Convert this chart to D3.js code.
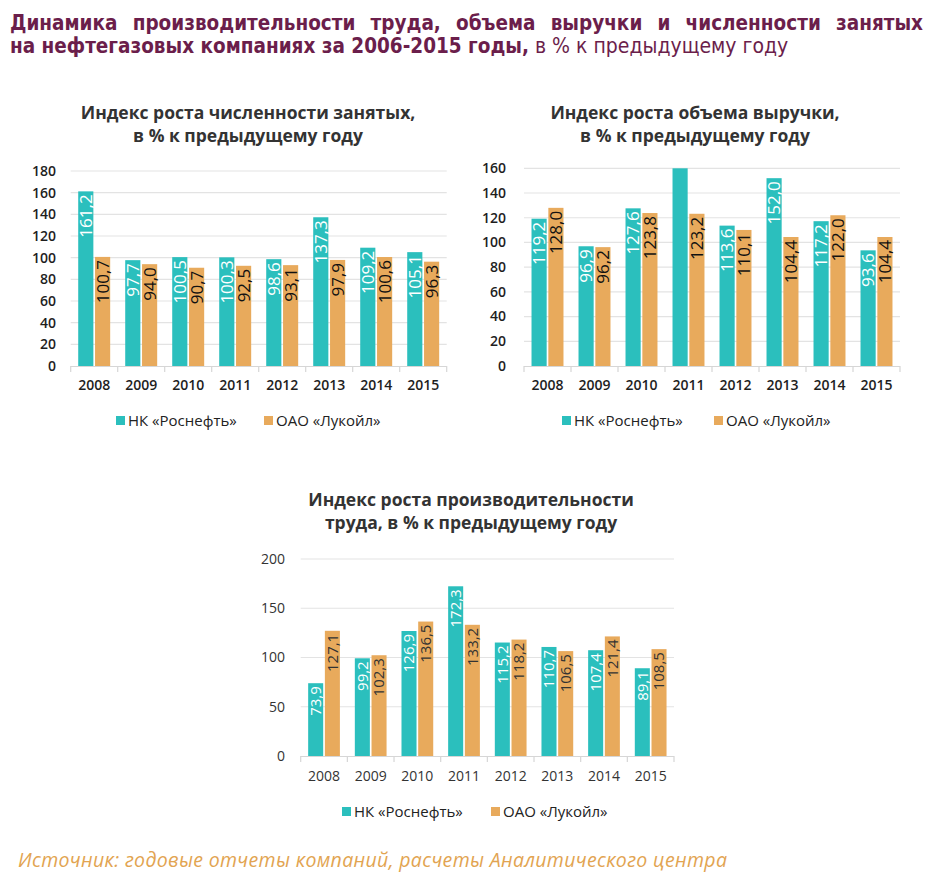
<!DOCTYPE html>
<html><head><meta charset="utf-8">
<script src="https://cdn.jsdelivr.net/npm/d3@7"></script>
<style>body{margin:0;background:#fff}svg{display:block}</style>
</head><body>
<svg id="c" width="942" height="878"></svg>
<script>
const years = ["2008","2009","2010","2011","2012","2013","2014","2015"];
const seriesNames = ["НК «Роснефть»","ОАО «Лукойл»"];
// Индекс роста численности занятых
const employRosneft = [161.2, 97.7, 100.5, 100.3, 98.6, 137.3, 109.2, 105.1];
const employLukoil  = [100.7, 94.0, 90.7, 92.5, 93.1, 97.9, 100.6, 96.3];
// Индекс роста объема выручки (2011 Роснефть выходит за шкалу, подпись скрыта)
const revenueRosneft = [119.2, 96.9, 127.6, 160.0, 113.6, 152.0, 117.2, 93.6];
const revenueLukoil  = [128.0, 96.2, 123.8, 123.2, 110.1, 104.4, 122.0, 104.4];
// Индекс роста производительности труда
const prodRosneft = [73.9, 99.2, 126.9, 172.3, 115.2, 110.7, 107.4, 89.1];
const prodLukoil  = [127.1, 102.3, 136.5, 133.2, 118.2, 106.5, 121.4, 108.5];
const ticks1 = [0,20,40,60,80,100,120,140,160,180];
const ticks2 = [0,20,40,60,80,100,120,140,160];
const ticks3 = [0,50,100,150,200];

const TEAL = "#2bbfbd", ORANGE = "#e8aa5c";
const svg = d3.select("#c");
const fmt = v => v.toFixed(1).replace(".", ",");

// Main title
const TITLE_C = "#6b1e4b";
const t1words = "Динамика производительности труда, объема выручки и численности занятых".split(" ");
const tg = svg.append("g").attr("font-family","'DejaVu Sans Condensed','DejaVu Sans'").attr("font-weight","bold").attr("font-size",20.5).attr("fill",TITLE_C);
const wEls = t1words.map(w => tg.append("text").attr("y",29.5).text(w));
const widths = wEls.map(e => e.node().getComputedTextLength());
const L = 10, R = 923;
const gap = (R - L - d3.sum(widths)) / (t1words.length - 1);
let cx = L;
wEls.forEach((e,i)=>{ e.attr("x",cx); cx += widths[i] + gap; });
const t2 = tg.append("text").attr("x",L).attr("y",53);
t2.append("tspan").text("на нефтегазовых компаниях за 2006-2015 годы,");
t2.append("tspan").attr("font-weight","normal").attr("font-size",21).text(" в % к предыдущему году");

function drawChart(cfg){
  const g = svg.append("g").attr("font-family","'Open Sans', sans-serif");
  // subtitle
  const st = g.append("text").attr("text-anchor","middle").attr("fill","#333")
    .attr("font-weight","bold").attr("font-size",17.5);
  cfg.title.forEach((line,i)=> st.append("tspan").attr("x",cfg.titleX).attr("y",cfg.titleY + i*23).text(line));

  const x = d3.scaleBand().domain(years).range([cfg.x0, cfg.x1]);
  const bw = x.bandwidth();
  const xs = d3.scaleBand().domain([0,1]).range([bw*0.16, bw*0.84]).paddingInner(0.1);
  const y = d3.scaleLinear().domain([0, cfg.max]).range([cfg.y0, cfg.y1]);

  // grid
  g.append("g").selectAll("line").data(cfg.ticks.filter(t=>t>0)).join("line")
    .attr("x1",cfg.x0).attr("x2",cfg.x1).attr("y1",d=>y(d)).attr("y2",d=>y(d))
    .attr("stroke","#e3e3e3").attr("stroke-width",1.2);
  // y tick labels
  g.append("g").selectAll("text").data(cfg.ticks).join("text")
    .attr("x",cfg.labX).attr("y",d=>y(d)).attr("dy","0.35em").attr("text-anchor","end")
    .attr("font-size",cfg.tickSize).attr("font-weight",cfg.tickWeight).attr("fill",cfg.tickColor).text(d=>d);

  // bars
  const data = [];
  years.forEach((yr,i)=>{ cfg.series.forEach((s,j)=> data.push({yr, j, v:s[i]})); });
  g.append("g").selectAll("rect").data(data).join("rect")
    .attr("x",d=>x(d.yr)+xs(d.j)).attr("width",xs.bandwidth())
    .attr("y",d=>y(Math.min(d.v,cfg.max))).attr("height",d=>y(0)-y(Math.min(d.v,cfg.max)))
    .attr("fill",d=>d.j===0?TEAL:ORANGE);
  // labels
  g.append("g").selectAll("text").data(data.filter(d=>d.v < cfg.max)).join("text")
    .attr("transform",d=>`translate(${x(d.yr)+xs(d.j)+xs.bandwidth()/2},${y(d.v)+3}) rotate(-90)`)
    .attr("text-anchor","end").attr("dy","0.36em")
    .attr("font-size",cfg.labSize).attr("fill",d=>d.j===0?"#ffffff":cfg.darkLab)
    .text(d=>fmt(d.v));

  // baseline axis
  g.append("line").attr("x1",cfg.x0).attr("x2",cfg.x1).attr("y1",y(0)+0.5).attr("y2",y(0)+0.5)
    .attr("stroke","#d6d6d6").attr("stroke-width",1.2);
  g.append("g").selectAll("line").data(years.concat(["end"])).join("line")
    .attr("x1",(d,i)=>cfg.x0 + i*bw).attr("x2",(d,i)=>cfg.x0 + i*bw)
    .attr("y1",y(0)).attr("y2",y(0)+6).attr("stroke","#d6d6d6").attr("stroke-width",1.2);
  // year labels
  g.append("g").selectAll("text").data(years).join("text")
    .attr("x",d=>x(d)+bw/2).attr("y",cfg.yearY).attr("text-anchor","middle")
    .attr("font-size",cfg.yearSize).attr("font-weight",cfg.tickWeight).attr("fill",cfg.tickColor).text(d=>d);

  // legend
  const lg = g.append("g").attr("font-size",15).attr("fill","#222");
  [[cfg.legX[0],TEAL],[cfg.legX[1],ORANGE]].forEach(([lx,c],i)=>{
    lg.append("rect").attr("x",lx).attr("y",cfg.legY-5).attr("width",9).attr("height",9).attr("fill",c);
    lg.append("text").attr("x",lx+12).attr("y",cfg.legY).attr("dy","0.35em").text(seriesNames[i]);
  });
}

drawChart({
  title:["Индекс роста численности занятых,","в % к предыдущему году"], titleX:248, titleY:119,
  x0:70.7, x1:446.7, y0:366, y1:171, max:180, ticks:ticks1, labX:56,
  series:[employRosneft, employLukoil], tickSize:14, tickWeight:600, tickColor:"#1e1e1e",
  labSize:17, darkLab:"#111", yearY:390, yearSize:14, legX:[116,264], legY:421
});
drawChart({
  title:["Индекс роста объема выручки,","в % к предыдущему году"], titleX:695, titleY:119,
  x0:524, x1:900, y0:366, y1:168.3, max:160, ticks:ticks2, labX:506,
  series:[revenueRosneft, revenueLukoil], tickSize:14, tickWeight:600, tickColor:"#1e1e1e",
  labSize:17, darkLab:"#111", yearY:390, yearSize:14, legX:[562,714], legY:421
});
drawChart({
  title:["Индекс роста производительности","труда, в % к предыдущему году"], titleX:471, titleY:506,
  x0:300.7, x1:674, y0:756, y1:559, max:200, ticks:ticks3, labX:285,
  series:[prodRosneft, prodLukoil], tickSize:14, tickWeight:"normal", tickColor:"#333",
  labSize:15, darkLab:"#333", yearY:781, yearSize:14, legX:[342,491], legY:812
});

svg.append("text").attr("x",18).attr("y",867).attr("font-family","'Open Sans', sans-serif")
  .attr("font-style","italic").attr("font-size",19.5).attr("fill","#e2a451")
  .attr("textLength",709).attr("lengthAdjust","spacing")
  .text("Источник: годовые отчеты компаний, расчеты Аналитического центра");
</script>
</body></html>
